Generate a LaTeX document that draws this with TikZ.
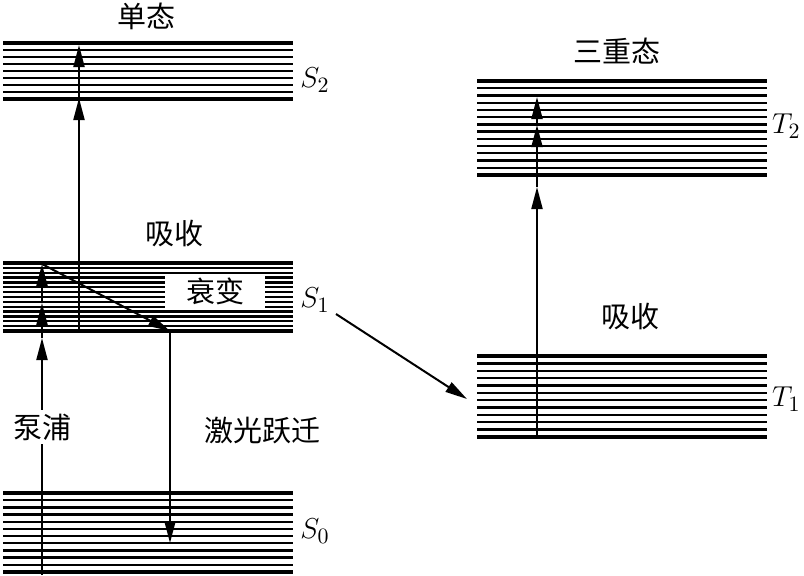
\documentclass[tikz,border=0pt]{standalone}
\usepackage{fontspec}
\newfontfamily\cjk{Noto Sans CJK SC}
\usetikzlibrary{arrows.meta}

\tikzset{
  level/.style={line width=1.15pt},
  rim/.style={line width=1.6pt},
  jump/.style={line width=1pt, -{Triangle[length=11pt,width=5.5pt]}},
  tag/.style={font=\cjk\fontsize{14.5}{17}\selectfont, inner sep=1pt},
  state/.style={font=\fontsize{15.5}{18}\selectfont, inner sep=0pt, anchor=west}
}

\begin{document}
\begin{tikzpicture}[x=0.5pt, y=-0.5pt]
    \useasboundingbox (0,0) rectangle (804,575);

    \foreach \ya/\yb/\n/\xa/\xb in {43/99/8/3/293, 263/331/14/3/293, 493/572/11/3/293, 81/175/13/477/767, 356/437/11/477/767} {
        \foreach \i in {0,...,\n}
            \draw[level] (\xa,{\ya+(\yb-\ya)*\i/\n}) -- (\xb,{\ya+(\yb-\ya)*\i/\n});
        \draw[rim] (\xa,\ya) -- (\xb,\ya);
        \draw[rim] (\xa,\yb) -- (\xb,\yb);
    }

    \coordinate (pumpfoot) at (42,575);
    \coordinate (pumpa) at (42,338);
    \coordinate (pumpb) at (42,303);
    \coordinate (pumpc) at (42,264);
    \coordinate (lasertop) at (170,331);
    \coordinate (laserend) at (170,543);
    \coordinate (absfoot) at (79,331);
    \coordinate (absa) at (79,98);
    \coordinate (absb) at (79,45);
    \coordinate (iscfoot) at (336,314);
    \coordinate (isctip) at (467,399);
    \coordinate (tfoot) at (537,436);
    \coordinate (ta) at (537,187);
    \coordinate (tb) at (537,125);
    \coordinate (tc) at (537,97);

    \draw[jump] (pumpfoot) -- (pumpa);
    \draw[jump] (pumpa) -- (pumpb);
    \draw[jump] (pumpb) -- (pumpc);
    \draw[jump] (pumpc) -- (lasertop);
    \draw[jump] (lasertop) -- (laserend);
    \draw[jump] (absfoot) -- (absa);
    \draw[jump] (absa) -- (absb);
    \draw[jump] (iscfoot) -- (isctip);
    \draw[jump] (tfoot) -- (ta);
    \draw[jump] (ta) -- (tb);
    \draw[jump] (tb) -- (tc);

    \node[tag] (singlet) at (146,16) {单态};
    \node[state] (s2) at (300,80) {$S_2$};
    \node[tag] (absS) at (174,233) {吸收};
    \node[tag, fill=white, minimum width=50pt, minimum height=17.5pt] (decay) at (215,291.5) {衰变};
    \node[state] (s1) at (300,300) {$S_1$};
    \node[tag, fill=white, inner sep=2pt] (pump) at (42,427) {泵浦};
    \node[tag] (laser) at (262,431) {激光跃迁};
    \node[state] (s0) at (300,531) {$S_0$};
    \node[tag] (triplet) at (617,51) {三重态};
    \node[state, anchor=east] (t2) at (801,126) {$T_2$};
    \node[tag] (absT) at (630,316) {吸收};
    \node[state, anchor=east] (t1) at (801,399) {$T_1$};
\end{tikzpicture}
\end{document}
